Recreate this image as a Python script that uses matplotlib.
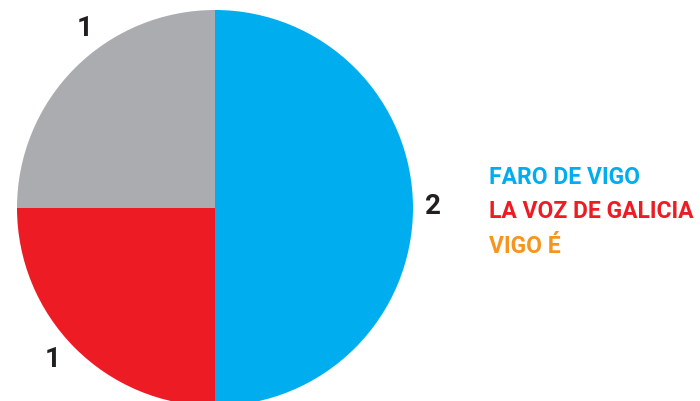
import numpy as np
import matplotlib.pyplot as plt

# data
sources = ['FARO DE VIGO', 'LA VOZ DE GALICIA', 'VIGO É']
legend_colors = ['#00AEEF', '#ED1C24', '#F7941D']
slice_values = [2, 1, 1]
slice_colors = ['#00AEEF', '#ED1C24', '#ABACB0']

plt.rcParams['font.family'] = ['Roboto', 'DejaVu Sans']

W, H = 700, 401
fig = plt.figure(figsize=(W / 100, H / 100), dpi=100)
ax = fig.add_axes([0, 0, 1, 1])
ax.set_xlim(0, W)
ax.set_ylim(0, H)
ax.axis('off')

cx, cy, r = 215, H - 208, 198
wedges, _ = ax.pie(slice_values, colors=slice_colors, startangle=90,
                   counterclock=False, center=(cx, cy), radius=r,
                   wedgeprops=dict(linewidth=0))
ax.set_xlim(0, W)
ax.set_ylim(0, H)
ax.set_aspect('equal')

# value labels just outside each slice (small angle tweaks to match)
tweak = [0.5, -2, -9]
dist = [1.10, 1.12, 1.12]
for w, v, t, d in zip(wedges, slice_values, tweak, dist):
    mid = np.deg2rad((w.theta1 + w.theta2) / 2 + t)
    ax.text(cx + d * r * np.cos(mid), cy + d * r * np.sin(mid), str(v),
            ha='center', va='center', fontsize=20, fontweight='bold',
            color='#231F20')

# legend as coloured text
for i, (name, col) in enumerate(zip(sources, legend_colors)):
    ax.text(489, H - 177.5 - i * 34.5, name, color=col, fontsize=16.5,
            fontweight='bold', ha='left', va='center')

fig.savefig('out.png', dpi=100)
